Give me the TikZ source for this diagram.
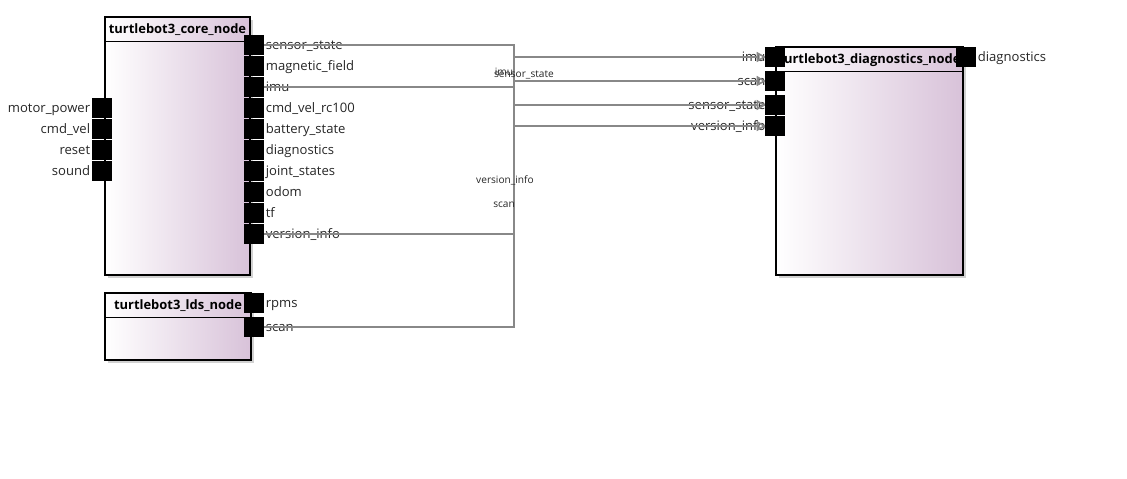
\documentclass[tikz,border=0pt]{standalone}
\usepackage{fontspec}
\setmainfont{Open Sans}
\usepackage{tikz}
\usetikzlibrary{positioning,arrows.meta,fit,shadows,calc}
\definecolor{boxpurple}{RGB}{216,194,217}
\definecolor{wiregray}{RGB}{136,136,136}
\tikzset{
  nodebox/.style = {draw, line width=1pt, inner sep=0pt,
                    left color=white, right color=boxpurple,
                    drop shadow={shadow xshift=2pt, shadow yshift=-2pt,
                                 fill=black!18, opacity=1}},
  ttl/.style     = {font=\fontsize{9.7}{11}\selectfont\bfseries, inner sep=0pt},
  port/.style    = {fill=black, draw=none, minimum size=15pt, inner sep=0pt},
  plbl/.style    = {font=\fontsize{9.8}{11}\selectfont, inner sep=1pt,
                    text height=1.5ex, text depth=.3ex, text=black!85},
  wire/.style    = {draw=wiregray, line width=1.5pt},
  ar/.style      = {wire, -{Triangle[open, length=7pt, width=7.5pt, line width=1.2pt]}},
  elbl/.style    = {font=\fontsize{7.6}{9}\selectfont, inner sep=0pt, text=black!85},
}

\begin{document}
\begin{tikzpicture}[x=0.75pt, y=-0.75pt]
\useasboundingbox (0,0) rectangle (1127,478);

% node boxes
\node[nodebox, fit={(105,17) (250,275)}] (core) {};
\node[nodebox, fit={(776,47) (963,275)}] (diag) {};
\node[nodebox, fit={(105,293) (251,360)}] (lds) {};

\foreach \bx/\txt in {core/turtlebot3\_core\_node,
                      diag/turtlebot3\_diagnostics\_node,
                      lds/turtlebot3\_lds\_node} {
  \node[ttl] (\bx-ttl) at ($(\bx.north)+(0,13.5)$) {\txt};
  \draw[line width=1pt] ($(\bx.north west)+(0,25)$) -- ($(\bx.north east)+(0,25)$);
}

% bend column of the wires
\coordinate (bus) at (514,0);

% arrow ends at the diagnostics_node inputs
\coordinate (d-imu-p) at (766,57);
\coordinate (d-scan-p) at (766,81);
\coordinate (d-sensor-p) at (766,105);
\coordinate (d-version-p) at (766,126);

% core_node outputs
\foreach \nm/\txt [count=\i] in {sensor/sensor\_state, magnetic/magnetic\_field,
    imu/imu, rc/cmd\_vel\_rc100, battery/battery\_state, diag/diagnostics,
    joint/joint\_states, odom/odom, tf/tf, version/version\_info} {
  \node[port] (c-\nm) at (254,24+21*\i) {};
  \node[plbl, anchor=west] (c-\nm-t) at (c-\nm.east) {\txt};
}
% core_node inputs
\foreach \nm/\txt [count=\i] in {motor/motor\_power, cmd/cmd\_vel,
    reset/reset, sound/sound} {
  \node[port] (c-\nm) at (102,87+21*\i) {};
  \node[plbl, anchor=east] (c-\nm-t) at (c-\nm.west) {\txt};
}
% lds_node outputs
\node[port] (l-rpms) at (254,303) {};
\node[plbl, anchor=west] (l-rpms-t) at (l-rpms.east) {rpms};
\node[port] (l-scan) at (254,327) {};
\node[plbl, anchor=west] (l-scan-t) at (l-scan.east) {scan};

% diagnostics_node input labels
\foreach \nm/\txt/\yy in {imu/imu/57, scan/scan/81,
    sensor/sensor\_state/105, version/version\_info/126} {
  \node[plbl, anchor=east] (d-\nm-t) at (767,\yy) {\txt};
}

\draw[ar] (c-sensor.east) -- (c-sensor.east -| bus) |- (d-sensor-p);
\draw[ar] (c-imu.east) -- (c-imu.east -| bus) |- (d-imu-p);
\draw[ar] (c-version.east) -- (c-version.east -| bus) |- (d-version-p);
\draw[ar] (l-scan.east) -- (l-scan.east -| bus) |- (d-scan-p);

\foreach \nm/\yy in {imu/57, scan/81, sensor/105, version/126} {
  \node[port] (d-\nm) at (775,\yy) {};
}
% diagnostics_node output
\node[port] (d-out) at (966,57) {};
\node[plbl, anchor=west] (d-out-t) at (d-out.east) {diagnostics};

% wire labels
\node[elbl] (w-imu) at (504,72) {imu};
\node[elbl] (w-sensor) at (524,75) {sensor\_state};
\node[elbl] (w-version) at (505,180) {version\_info};
\node[elbl] (w-scan) at (504,205) {scan};
\end{tikzpicture}
\end{document}
